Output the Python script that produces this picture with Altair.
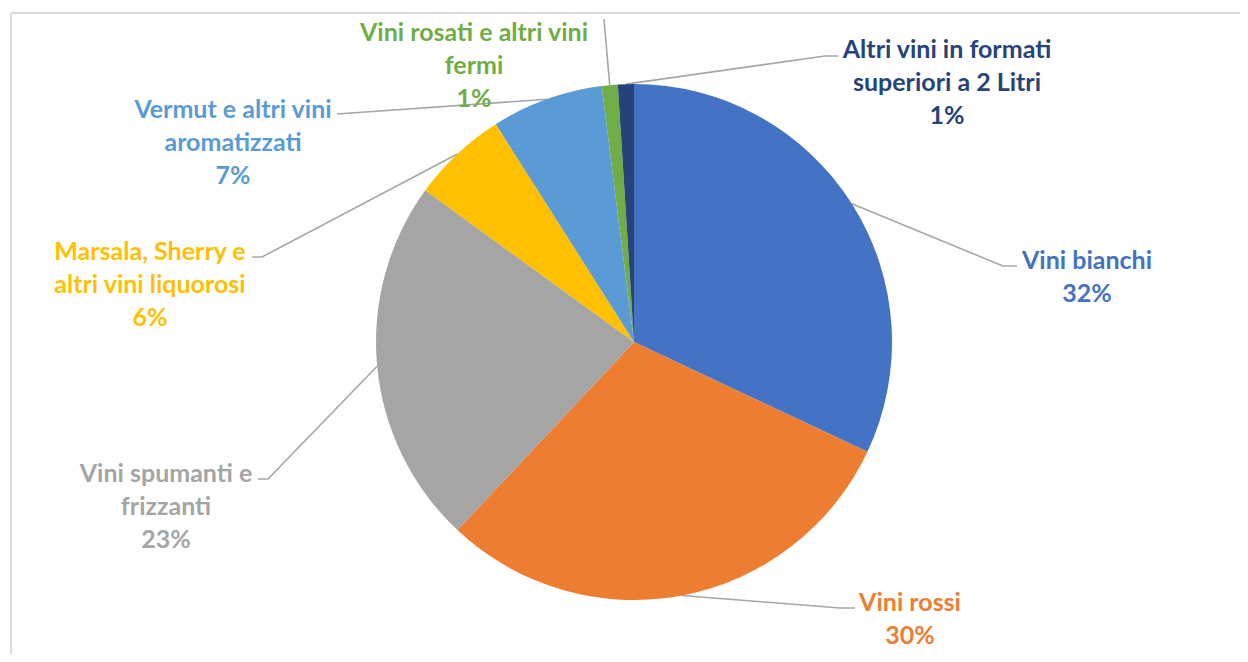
import altair as alt
import pandas as pd
import numpy as np

# ---- data ----
categories = [
    "Vini bianchi",
    "Vini rossi",
    "Vini spumanti e frizzanti",
    "Marsala, Sherry e altri vini liquorosi",
    "Vermut e altri vini aromatizzati",
    "Vini rosati e altri vini fermi",
    "Altri vini in formati superiori a 2 Litri",
]
shares = [32, 30, 23, 6, 7, 1, 1]
label_lines = [
    ["Vini bianchi"],
    ["Vini rossi"],
    ["Vini spumanti  e", "frizzanti"],
    ["Marsala, Sherry e", "altri vini liquorosi"],
    ["Vermut e altri vini", "aromatizzati"],
    ["Vini rosati e altri vini", "fermi"],
    ["Altri vini in formati", "superiori a 2 Litri"],
]

# ---- style / layout ----
colors = ["#4472C4", "#ED7D31", "#A5A5A5", "#FFC000", "#5B9BD5", "#70AD47", "#264478"]
W, H = 1232, 646
CX, CY, R = 626, 334, 258
# label anchors: centre x and first-line y (pixel layout of the annotations)
label_pos = [(1079, 253), (902, 595), (158, 466), (142, 244), (225, 102), (466, 25), (939, 42)]
# leader line elbow and end points (annotation layout)
leader_pts = [
    [(995, 258), (1009, 258)],
    [(832, 600), (847, 600)],
    [(260, 471), (250, 471)],
    [(254, 249), (244, 249)],
    [(329, 106), (329, 106)],
    [(596, 11), (596, 11)],
    [(817, 48), (830, 48)],
]

total = sum(shares)
pie_df = pd.DataFrame({"cat": categories, "value": shares, "idx": range(len(categories))})

label_df = pd.DataFrame({
    "cat": categories,
    "text": ["\n".join(l + [f"{round(v / total * 100)}%"]) for l, v in zip(label_lines, shares)],
    "x": [p[0] for p in label_pos],
    "y": [p[1] for p in label_pos],
})

rows = []
cum = 0.0
for c, v, pts in zip(categories, shares, leader_pts):
    mid = (cum + v / 2) / total * 2 * np.pi
    cum += v
    sx, sy = CX + R * np.sin(mid), CY - R * np.cos(mid)
    rows.append({"cat": c, "x": sx, "y": sy, "o": 0})
    rows.append({"cat": c, "x": pts[0][0], "y": pts[0][1], "o": 1})
    rows.append({"cat": c, "x": pts[1][0], "y": pts[1][1], "o": 2})
lead_df = pd.DataFrame(rows)

color_scale = alt.Scale(domain=categories, range=colors)
xs = alt.Scale(domain=[0, W], nice=False, zero=False)
ys = alt.Scale(domain=[0, H], nice=False, zero=False, reverse=True)

pie = alt.Chart(pie_df).mark_arc(outerRadius=R).encode(
    theta=alt.Theta("value:Q", stack=True),
    color=alt.Color("cat:N", scale=color_scale, legend=None),
    order=alt.Order("idx:Q"),
    x=alt.value(CX),
    y=alt.value(CY),
)

leaders = alt.Chart(lead_df).mark_line(color="#A6A6A6", strokeWidth=1.6).encode(
    x=alt.X("x:Q", scale=xs, axis=None),
    y=alt.Y("y:Q", scale=ys, axis=None),
    detail="cat:N",
    order="o:Q",
)

labels = alt.Chart(label_df).mark_text(
    font="Lato", fontWeight="bold", fontSize=25, lineBreak="\n", lineHeight=33,
    align="center", baseline="middle",
).encode(
    x=alt.X("x:Q", scale=xs, axis=None),
    y=alt.Y("y:Q", scale=ys, axis=None),
    text="text:N",
    color=alt.Color("cat:N", scale=color_scale, legend=None),
)

frame_top = alt.Chart(pie_df).mark_rule(color="#D9D9D9", strokeWidth=2).encode(
    x=alt.value(3), x2=alt.value(W), y=alt.value(5)
)
frame_left = alt.Chart(pie_df).mark_rule(color="#D9D9D9", strokeWidth=2).encode(
    x=alt.value(3), y=alt.value(5), y2=alt.value(H)
)

chart = alt.layer(frame_top, frame_left, leaders, pie, labels).properties(
    width=W, height=H, autosize=alt.AutoSizeParams(type="none"), padding=0,
).configure_view(stroke=None)

chart.save("out.html", embed_options={"renderer": "svg", "actions": False})
